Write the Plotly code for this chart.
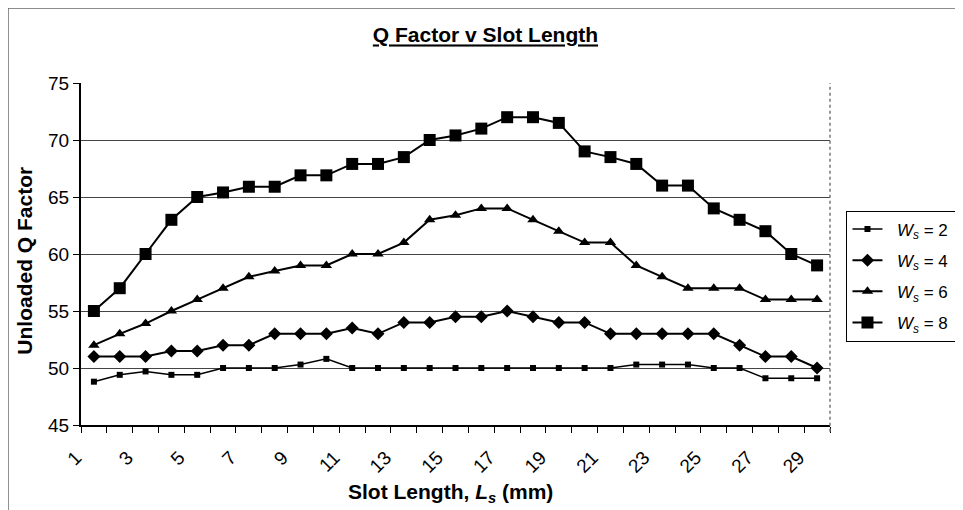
import plotly.graph_objects as go

slot_length = list(range(1, 30))
tick_values = list(range(1, 30, 2))
tick_labels = [str(v) for v in tick_values]

q_ws2 = [48.8, 49.4, 49.7, 49.4, 49.4, 50, 50, 50, 50.3, 50.8, 50, 50, 50, 50, 50,
         50, 50, 50, 50, 50, 50, 50.3, 50.3, 50.3, 50, 50, 49.1, 49.1, 49.1]
q_ws4 = [51, 51, 51, 51.5, 51.5, 52, 52, 53, 53, 53, 53.5, 53, 54, 54, 54.5,
         54.5, 55, 54.5, 54, 54, 53, 53, 53, 53, 53, 52, 51, 51, 50]
q_ws6 = [52, 53, 53.9, 55, 56, 57, 58, 58.5, 59, 59, 60, 60, 61, 63, 63.4,
         64, 64, 63, 62, 61, 61, 59, 58, 57, 57, 57, 56, 56, 56]
q_ws8 = [55, 57, 60, 63, 65, 65.4, 65.9, 65.9, 66.9, 66.9, 67.9, 67.9, 68.5, 70, 70.4,
         71, 72, 72, 71.5, 69, 68.5, 67.9, 66, 66, 64, 63, 62, 60, 59]

series_names = ["&nbsp;&nbsp;<i>W<sub>s</sub></i> = 2&nbsp;", "&nbsp;&nbsp;<i>W<sub>s</sub></i> = 4&nbsp;",
                "&nbsp;&nbsp;<i>W<sub>s</sub></i> = 6&nbsp;", "&nbsp;&nbsp;<i>W<sub>s</sub></i> = 8&nbsp;"]
series_values = [q_ws2, q_ws4, q_ws6, q_ws8]
symbols = ["square", "diamond", "triangle-up", "square"]
sizes = [6, 10, 10, 12]
widths = [1.5, 2, 2, 2]

FONT = "Liberation Sans, Arial, sans-serif"

fig = go.Figure()
for i, (name, vals) in enumerate(zip(series_names, series_values)):
    fig.add_trace(go.Scatter(
        x=slot_length, y=vals, name=name, mode="lines+markers",
        line=dict(color="black", width=widths[i]),
        marker=dict(symbol=symbols[i], size=sizes[i], color="black"),
        legendgroup=f"g{i}",
    ))

fig.update_layout(
    width=963, height=502,
    margin=dict(l=73, r=141, t=75, b=85),
    paper_bgcolor="white", plot_bgcolor="white",
    font=dict(family=FONT, color="black", size=17),
    title=dict(text="<b><u>Q Factor v Slot Length</u></b>", x=0.4958, xref="container",
               xanchor="center", y=0.946, yanchor="middle", font=dict(size=21, family=FONT)),
    showlegend=True,
    legend=dict(x=1.022, xanchor="left", y=0.627, yanchor="top",
                bordercolor="black", borderwidth=1, bgcolor="white",
                font=dict(size=17, family=FONT), tracegroupgap=6),
    xaxis=dict(range=[0.5, 29.5], tickmode="array",
               tickvals=tick_values, ticktext=tick_labels,
               tickangle=-45, ticks="", showgrid=False, zeroline=False,
               showline=True, linecolor="black", linewidth=2,
               ticklabelstandoff=12, ticklabelshift=-18,
               tickfont=dict(size=19, family=FONT),
               minor=dict(tickmode="linear", tick0=0.5, dtick=1, ticks="outside",
                          ticklen=6, tickcolor="black", tickwidth=1, showgrid=False)),
    yaxis=dict(range=[45, 75], dtick=5, ticks="outside", ticklen=6, tickcolor="black",
               showgrid=True, gridcolor="#444444", gridwidth=1.2, zeroline=False,
               showline=True, linecolor="black", linewidth=2,
               tickfont=dict(size=19, family=FONT)),
)

fig.add_annotation(text="<b>Unloaded Q Factor</b>", xref="paper", yref="paper",
                   x=-0.075, y=0.48, textangle=-90, showarrow=False,
                   xanchor="center", yanchor="middle", font=dict(size=21, family=FONT))
fig.add_annotation(text="<b>Slot Length, <i>L<sub>s</sub></i> (mm)</b>", xref="paper", yref="paper",
                   x=0.493, y=-0.2, showarrow=False, xanchor="center", yanchor="middle",
                   font=dict(size=21, family=FONT))

# plot-area right border (dotted) and outer chart frame
fig.add_shape(type="line", xref="paper", yref="paper", x0=1, x1=1, y0=-0.02, y1=1,
              line=dict(color="#777777", width=1.5, dash="dot"))
fig.add_shape(type="line", xref="paper", yref="paper", x0=-0.0975, x1=-0.0975, y0=-0.3, y1=1.219,
              line=dict(color="#666666", width=1.5))
fig.add_shape(type="line", xref="paper", yref="paper", x0=-0.0975, x1=1.2, y0=1.219, y1=1.219,
              line=dict(color="#666666", width=1.5))

fig.write_html("out.html")
